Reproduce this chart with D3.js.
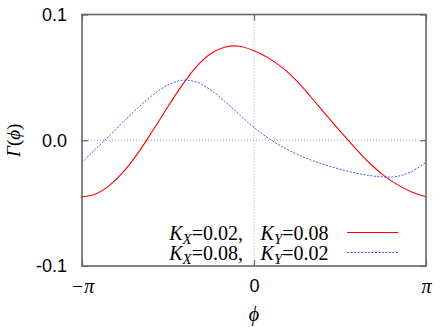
<!DOCTYPE html>
<html>
<head>
<meta charset="utf-8">
<script src="https://cdn.jsdelivr.net/npm/d3@7/dist/d3.min.js"></script>
<style>
  html, body { margin: 0; padding: 0; background: #fff; }
  svg { display: block; }
</style>
</head>
<body>
<svg id="chart" width="447" height="327"></svg>
<script>
// ---- data ----
// phase samples in units of pi (k/12)
const phiOverPi = [-1, -11/12, -10/12, -9/12, -8/12, -7/12, -6/12, -5/12, -4/12, -3/12, -2/12, -1/12, 0,
                   1/12, 2/12, 3/12, 4/12, 5/12, 6/12, 7/12, 8/12, 9/12, 10/12, 11/12, 1];
const gammaRed  = [-0.0450, -0.0425, -0.0351, -0.0236, -0.0086, 0.0088, 0.0268, 0.0440, 0.0588, 0.0690, 0.0742, 0.0748, 0.0712,
                    0.0655, 0.0575, 0.0470, 0.0340, 0.0205, 0.0073, -0.0055, -0.0175, -0.0275, -0.0353, -0.0412, -0.0450];
const gammaBlue = [-0.0176, -0.0065, 0.0045, 0.0159, 0.0268, 0.0365, 0.0440, 0.0477, 0.0462, 0.0398, 0.0304, 0.0202, 0.0101,
                    0.0017, -0.0054, -0.0112, -0.0158, -0.0197, -0.0230, -0.0258, -0.0279, -0.0292, -0.0287, -0.0248, -0.0176];
const yTicks = [-0.1, 0, 0.1];
const yTickLabels = ["-0.1", "0.0", "0.1"];
const xTicks = [-Math.PI, 0, Math.PI];
const xTickLabels = ["\u2212\u03C0", "0", "\u03C0"];
const seriesNames = [
  {kx: "0.02", ky: "0.08"},
  {kx: "0.08", ky: "0.02"}
];

// ---- layout ----
const svg = d3.select("#chart");
const L = 82, R = 426, T = 14.5, B = 266;
const x = d3.scaleLinear().domain([-Math.PI, Math.PI]).range([L, R]);
const y = d3.scaleLinear().domain([-0.1, 0.1]).range([B, T]);
const borderColor = "#666666";
const serif = "'Liberation Serif', 'Times New Roman', serif";
const sans = "'Liberation Sans', Arial, sans-serif";

// grid lines (dotted) at zero
svg.append("line").attr("x1", x(0)).attr("x2", x(0)).attr("y1", T).attr("y2", B)
  .attr("stroke", "#a0a0a0").attr("stroke-width", 1).attr("stroke-dasharray", "1,2");
svg.append("line").attr("x1", L).attr("x2", R).attr("y1", y(0)).attr("y2", y(0))
  .attr("stroke", "#a0a0a0").attr("stroke-width", 1).attr("stroke-dasharray", "1,2");

// axes
const yAxis = d3.axisLeft(y).tickValues(yTicks)
  .tickFormat((d, i) => yTickLabels[i]).tickSizeInner(-6).tickSizeOuter(0).tickPadding(15);
const gy = svg.append("g").attr("transform", `translate(${L},0)`).call(yAxis);
gy.select(".domain").remove();
gy.selectAll("line").attr("stroke", borderColor).attr("stroke-width", 1.2);
gy.selectAll("text").attr("font-family", sans).attr("font-size", 18).attr("fill", "#000");

const yAxisR = d3.axisRight(y).tickValues(yTicks).tickFormat("").tickSizeInner(-6).tickSizeOuter(0);
const gyr = svg.append("g").attr("transform", `translate(${R},0)`).call(yAxisR);
gyr.select(".domain").remove();
gyr.selectAll("line").attr("stroke", borderColor).attr("stroke-width", 1.2);

const xAxis = d3.axisBottom(x).tickValues(xTicks)
  .tickFormat((d, i) => xTickLabels[i]).tickSizeInner(-6).tickSizeOuter(0).tickPadding(13);
const gx = svg.append("g").attr("transform", `translate(0,${B})`).call(xAxis);
gx.select(".domain").remove();
gx.selectAll("line").attr("stroke", borderColor).attr("stroke-width", 1.2);
gx.selectAll("text").attr("fill", "#000")
  .attr("font-size", (d, i) => i === 1 ? 18 : 20)
  .attr("font-family", (d, i) => i === 1 ? sans : serif)
  .attr("font-style", (d, i) => i === 1 ? "normal" : "italic");

const xAxisT = d3.axisTop(x).tickValues(xTicks).tickFormat("").tickSizeInner(-6).tickSizeOuter(0);
const gxt = svg.append("g").attr("transform", `translate(0,${T})`).call(xAxisT);
gxt.select(".domain").remove();
gxt.selectAll("line").attr("stroke", borderColor).attr("stroke-width", 1.2);

// curves
const line = d3.line().x(d => x(d[0])).y(d => y(d[1])).curve(d3.curveCatmullRom.alpha(0.5));
const redData = phiOverPi.map((p, i) => [p * Math.PI, gammaRed[i]]);
const blueData = phiOverPi.map((p, i) => [p * Math.PI, gammaBlue[i]]);
svg.append("path").datum(redData).attr("d", line).attr("fill", "none")
  .attr("stroke", "#ff0000").attr("stroke-width", 1.1);
svg.append("path").datum(blueData).attr("d", line).attr("fill", "none")
  .attr("stroke", "#3a3aff").attr("stroke-width", 0.9).attr("stroke-dasharray", "2,1.5");

// border
svg.append("rect").attr("x", L).attr("y", T).attr("width", R - L).attr("height", B - T)
  .attr("fill", "none").attr("stroke", borderColor).attr("stroke-width", 1.6);

// axis labels
svg.append("text").attr("x", x(0)).attr("y", 321).attr("text-anchor", "middle")
  .attr("font-family", serif).attr("font-style", "italic")
  .attr("font-size", 20).text("\u03D5");
const yl = svg.append("text").attr("transform", `translate(20,${y(0)}) rotate(-90)`).attr("text-anchor", "middle")
  .attr("font-family", serif).attr("font-size", 19);
yl.append("tspan").attr("font-style", "italic").text("\u0393");
yl.append("tspan").text("(");
yl.append("tspan").attr("font-style", "italic").text("\u03D5");
yl.append("tspan").text(")");

// legend
const legendColors = ["#ff0000", "#3a3aff"];
const legendDash = [null, "2,1.5"];
seriesNames.forEach((s, i) => {
  const by = 239.5 + i * 20;
  const t1 = svg.append("text").attr("x", 243).attr("y", by).attr("text-anchor", "end")
    .attr("font-family", serif).attr("font-size", 20);
  t1.append("tspan").attr("font-style", "italic").text("K");
  t1.append("tspan").attr("font-style", "italic").attr("font-size", 15).attr("dy", 4).text("X");
  t1.append("tspan").attr("dy", -4).text("=" + s.kx + ",");
  const t2 = svg.append("text").attr("x", 328.5).attr("y", by).attr("text-anchor", "end")
    .attr("font-family", serif).attr("font-size", 20);
  t2.append("tspan").attr("font-style", "italic").text("K");
  t2.append("tspan").attr("font-style", "italic").attr("font-size", 15).attr("dy", 4).text("Y");
  t2.append("tspan").attr("dy", -4).text("=" + s.ky);
  svg.append("line").attr("x1", 347).attr("x2", 398).attr("y1", by - 7).attr("y2", by - 7)
    .attr("stroke", legendColors[i]).attr("stroke-width", i === 0 ? 1.1 : 0.9)
    .attr("stroke-dasharray", legendDash[i]);
});
</script>
</body>
</html>
